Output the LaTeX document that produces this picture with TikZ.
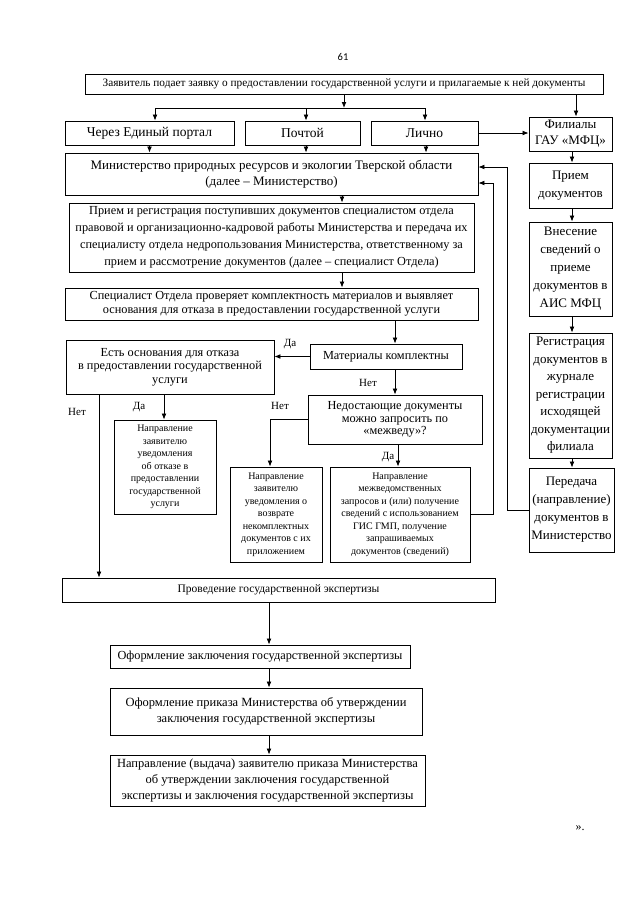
\documentclass[tikz,border=0pt]{standalone}
\usepackage{fontspec}
\setmainfont{Liberation Serif}
\newfontfamily\pgnumfont{Carlito}
\usetikzlibrary{arrows.meta,calc}
\begin{document}
\begin{tikzpicture}[x=1pt,y=-1pt,
  box/.style={draw, line width=0.9pt, align=center, inner sep=1pt},
  arr/.style={line width=0.8pt, -{Latex[length=6pt,width=4.8pt]}},
  ln/.style={line width=0.8pt},
  lab/.style={font=\fontsize{11}{13}\selectfont, inner sep=0pt},
  fbig/.style={font=\fontsize{13}{18}\selectfont},
  fsmall/.style={font=\fontsize{10}{12.5}\selectfont}]
\useasboundingbox (0,0) rectangle (640,905);
\fill[white] (0,0) rectangle (640,905);

\node[font=\pgnumfont\fontsize{10.5}{12}\selectfont] (pg) at (343,57) {61};

\node[box, minimum width=518, minimum height=20, font=\fontsize{11.3}{13}\selectfont] (top) at (344,84)
  {Заявитель подает заявку о предоставлении государственной услуги и прилагаемые к ней документы};

\node[box, font=\fontsize{13.5}{18}\selectfont, minimum width=169, minimum height=24] (cherez) at (149.5,133) {Через Единый портал};
\node[box, font=\fontsize{13.5}{18}\selectfont, minimum width=115, minimum height=24] (pocht) at (302.5,133) {Почтой};
\node[box, font=\fontsize{13.5}{18}\selectfont, minimum width=107, minimum height=24] (lichno) at (424.5,133) {Лично};
\node[box, minimum width=83, minimum height=34, font=\fontsize{13}{16}\selectfont] (fil) at (570.5,134) {Филиалы\\ГАУ «МФЦ»};

\node[box, minimum width=413, minimum height=42, font=\fontsize{13}{16}\selectfont] (min) at (271.5,174)
  {Министерство природных ресурсов и экологии Тверской области\\(далее -- Министерство)};

\node[box, minimum width=405, minimum height=69, font=\fontsize{12.3}{17}\selectfont] (reg1) at (271.5,237.5)
  {Прием и регистрация поступивших документов специалистом отдела\\
   правовой и организационно-кадровой работы Министерства и передача их\\
   специалисту отдела недропользования Министерства, ответственному за\\
   прием и рассмотрение документов (далее -- специалист Отдела)};

\node[box, minimum width=413, minimum height=32, font=\fontsize{12.3}{14.5}\selectfont] (spec) at (271.5,304)
  {Специалист Отдела проверяет комплектность материалов и выявляет\\
   основания для отказа в предоставлении государственной услуги};

\node[box, minimum width=152, minimum height=25, font=\fontsize{12.3}{14}\selectfont] (mat) at (386,356.5) {Материалы комплектны};

\node[box, minimum width=208, minimum height=54, font=\fontsize{12.3}{13.5}\selectfont] (est) at (170,367)
  {Есть основания для отказа\\в предоставлении государственной\\услуги};

\node[box, minimum width=174, minimum height=49, font=\fontsize{12.3}{12.5}\selectfont] (ned) at (395,419.5)
  {Недостающие документы\\можно запросить по\\«межведу»?};

\node[box, fsmall, minimum width=102, minimum height=94] (otk) at (165,467)
  {Направление\\заявителю\\уведомления\\об отказе в\\предоставлении\\государственной\\услуги};

\node[box, fsmall, minimum width=92, minimum height=95] (voz) at (276,514.5)
  {Направление\\заявителю\\уведомления о\\возврате\\некомплектных\\документов с их\\приложением};

\node[box, fsmall, minimum width=140, minimum height=95] (mzh) at (400,514.5)
  {Направление\\межведомственных\\запросов и (или) получение\\сведений с использованием\\ГИС ГМП, получение\\запрашиваемых\\документов (сведений)};

\node[box, minimum width=433, minimum height=24, font=\fontsize{11.5}{13}\selectfont] (prov) at (278.5,590)
  {Проведение государственной экспертизы};

\node[box, minimum width=300, minimum height=23, font=\fontsize{12.3}{14}\selectfont] (of1) at (260,656.5)
  {Оформление заключения государственной экспертизы};

\node[box, minimum width=312, minimum height=47, font=\fontsize{12.5}{16}\selectfont] (of2) at (266,711.5)
  {Оформление приказа Министерства об утверждении\\заключения государственной экспертизы};

\node[box, minimum width=315, minimum height=51, font=\fontsize{12.5}{16}\selectfont] (napr) at (267.5,780.5)
  {Направление (выдача) заявителю приказа Министерства\\об утверждении заключения государственной\\экспертизы и заключения государственной экспертизы};

% right column
\node[box, fbig, minimum width=83, minimum height=45] (rpr) at (570.5,185.5) {Прием\\документов};
\node[box, fbig, minimum width=83, minimum height=94] (vnes) at (570.5,269) {Внесение\\сведений о\\приеме\\документов в\\АИС МФЦ};
\node[box, minimum width=83, minimum height=125, font=\fontsize{13}{17.5}\selectfont] (rreg) at (570.5,395.5) {Регистрация\\документов в\\журнале\\регистрации\\исходящей\\документации\\филиала};
\node[box, fbig, minimum width=85, minimum height=84] (per) at (571.5,510) {Передача\\(направление)\\документов в\\Министерство};

\node[font=\fontsize{12}{14}\selectfont] (end) at (580,828) {».};

% labels
\node[lab] (l1) at (290,344) {Да};
\node[lab] (l2) at (368,383) {Нет};
\node[lab] (l3) at (77,412) {Нет};
\node[lab] (l4) at (139,407) {Да};
\node[lab] (l5) at (280,406) {Нет};
\node[lab] (l6) at (388,457) {Да};

% connectors top
\coordinate (br) at (344,108);
\coordinate (brL) at (155,108);
\coordinate (brM) at (306,108);
\coordinate (brR) at (425,108);
\draw[arr] (top.south) -- (br);
\draw[ln] (brL) -- (brR);
\draw[arr] (brL) -- (brL |- cherez.north);
\draw[arr] (brM) -- (brM |- pocht.north);
\draw[arr] (brR) -- (brR |- lichno.north);
\draw[arr] ([xshift=232pt]top.south) -- ([xshift=232pt]top.south |- fil.north);
\draw[arr] (lichno.east) -- (lichno.east -| fil.west);

\draw[arr] (cherez.south) -- (cherez.south |- min.north);
\draw[arr] ([xshift=3.5pt]pocht.south) -- ([xshift=3.5pt]pocht.south |- min.north);
\draw[arr] ([xshift=1.5pt]lichno.south) -- ([xshift=1.5pt]lichno.south |- min.north);

\draw[arr] ([xshift=70.5pt]min.south) -- ([xshift=70.5pt]min.south |- reg1.north);
\draw[arr] ([xshift=70.5pt]reg1.south) -- ([xshift=70.5pt]reg1.south |- spec.north);
\draw[arr] ([xshift=123.5pt]spec.south) -- ([xshift=123.5pt]spec.south |- mat.north);
\draw[arr] (mat.west) -- (mat.west -| est.east);
\draw[arr] ([xshift=9pt]mat.south) -- ([xshift=9pt]mat.south |- ned.north);
\draw[arr] (ned.west) -| ([xshift=-6pt]voz.north);
\draw[arr] ([xshift=3pt]ned.south) -- ([xshift=3pt]ned.south |- mzh.north);
\draw[arr] ([xshift=-6pt]est.south) -- ([xshift=-6pt]est.south |- otk.north);
\draw[arr] ([xshift=-71pt]est.south) -- ([xshift=-71pt]est.south |- prov.north);

\coordinate (c1) at (493,183);
\coordinate (c2) at (507,167);
\draw[ln] (mzh.east) -| (c1);
\draw[arr] (c1) -- (c1 -| min.east);
\draw[ln] (per.west) -| (c2);
\draw[arr] (c2) -- (c2 -| min.east);

% right column arrows
\draw[arr] ([xshift=1.5pt]fil.south) -- ([xshift=1.5pt]fil.south |- rpr.north);
\draw[arr] ([xshift=1.5pt]rpr.south) -- ([xshift=1.5pt]rpr.south |- vnes.north);
\draw[arr] ([xshift=1.5pt]vnes.south) -- ([xshift=1.5pt]vnes.south |- rreg.north);
\draw[arr] ([xshift=1.5pt]rreg.south) -- ([xshift=1.5pt]rreg.south |- per.north);

% bottom chain
\draw[arr] ([xshift=-9.5pt]prov.south) -- ([xshift=-9.5pt]prov.south |- of1.north);
\draw[arr] ([xshift=9pt]of1.south) -- ([xshift=9pt]of1.south |- of2.north);
\draw[arr] ([xshift=3pt]of2.south) -- ([xshift=3pt]of2.south |- napr.north);
\end{tikzpicture}
\end{document}
